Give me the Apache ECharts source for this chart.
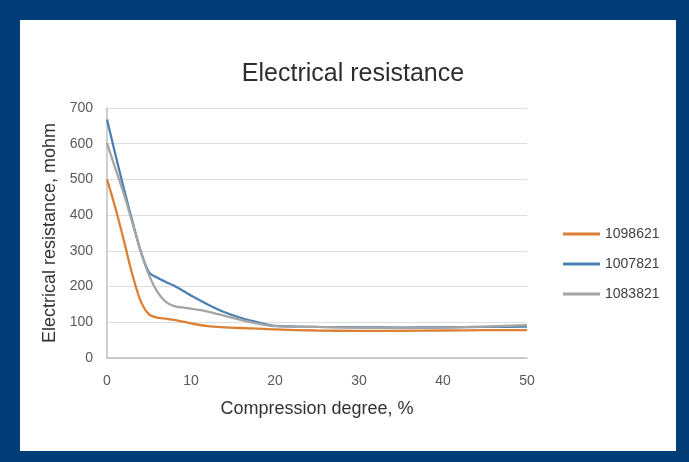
<!DOCTYPE html>
<html>
<head>
<meta charset="utf-8">
<script src="https://cdn.jsdelivr.net/npm/echarts@6/dist/echarts.min.js"></script>
<style>
html,body{margin:0;padding:0;background:#023d78;}
#panel{position:absolute;left:20px;top:20px;width:656px;height:431px;background:#ffffff;}
#chart{position:absolute;left:0;top:0;width:689px;height:462px;}
</style>
</head>
<body>
<div id="panel"></div>
<div id="chart"></div>
<script>
var xs = [0,1,2,3,4,5,6,7,8,10,12,14,16,18,20,25,30,35,40,45,50];
var s1098621 = [500,420,330,235,160,122,113,110,107,97,89,86,84,82,80,77,76,76,77,78,78];
var s1007821 = [668,570,475,385,300,240,225,213,202,175,150,128,112,100,90,87,86,85,86,87,88];
var s1083821 = [602,530,460,380,300,232,185,157,145,138,130,118,106,96,89,87,85,84,85,88,92];
var seriesNames = ['1098621','1007821','1083821'];
var yTicks = [0,100,200,300,400,500,600,700];
var xTicks = [0,10,20,30,40,50];

function pairs(ys){ return xs.map(function(x,i){return [x, ys[i]];}); }
var colors = ['#db8035','#4a80b4','#a5a5a5'];
var values = [s1098621, s1007821, s1083821];

var chart = echarts.init(document.getElementById('chart'));
chart.setOption({
  backgroundColor: 'transparent',
  animation: false,
  title: {
    text: 'Electrical resistance',
    left: 348, top: 57, textAlign: 'center',
    textStyle: {fontFamily: 'Liberation Sans', fontSize: 25, fontWeight: 'normal', color: '#2e2e2e'}
  },
  legend: {
    orient: 'vertical',
    left: 558, top: 222,
    itemGap: 16,
    icon: 'rect', itemWidth: 37, itemHeight: 3,
    textStyle: {fontFamily: 'Liberation Sans', fontSize: 14, color: '#404040'},
    data: seriesNames
  },
  grid: {left: 107, right: 162, top: 108, bottom: 104},
  xAxis: {
    type: 'value', min: xTicks[0], max: xTicks[xTicks.length-1], interval: 10,
    name: 'Compression degree, %', nameLocation: 'middle', nameGap: 42,
    nameTextStyle: {fontFamily: 'Liberation Sans', fontSize: 18, color: '#333333'},
    axisLine: {lineStyle: {color: '#bfbfbf', width: 1.5}},
    axisTick: {show: false},
    splitLine: {show: false},
    axisLabel: {fontFamily: 'Liberation Sans', fontSize: 14, color: '#595959', margin: 16}
  },
  yAxis: {
    type: 'value', min: yTicks[0], max: yTicks[yTicks.length-1], interval: 100,
    name: 'Electrical resistance, mohm', nameLocation: 'middle', nameGap: 44,
    nameTextStyle: {fontFamily: 'Liberation Sans', fontSize: 18, color: '#333333'},
    axisLine: {show: true, lineStyle: {color: '#bfbfbf', width: 1.5}},
    axisTick: {show: false},
    splitLine: {lineStyle: {color: '#dedede', width: 1}},
    axisLabel: {fontFamily: 'Liberation Sans', fontSize: 14, color: '#595959', margin: 14}
  },
  series: seriesNames.map(function(n,i){
    return {
      name: n, type: 'line', data: pairs(values[i]), smooth: 0.3,
      showSymbol: false, symbol: 'none',
      lineStyle: {color: colors[i], width: 2.3},
      itemStyle: {color: colors[i]}
    };
  })
});
</script>
</body>
</html>
